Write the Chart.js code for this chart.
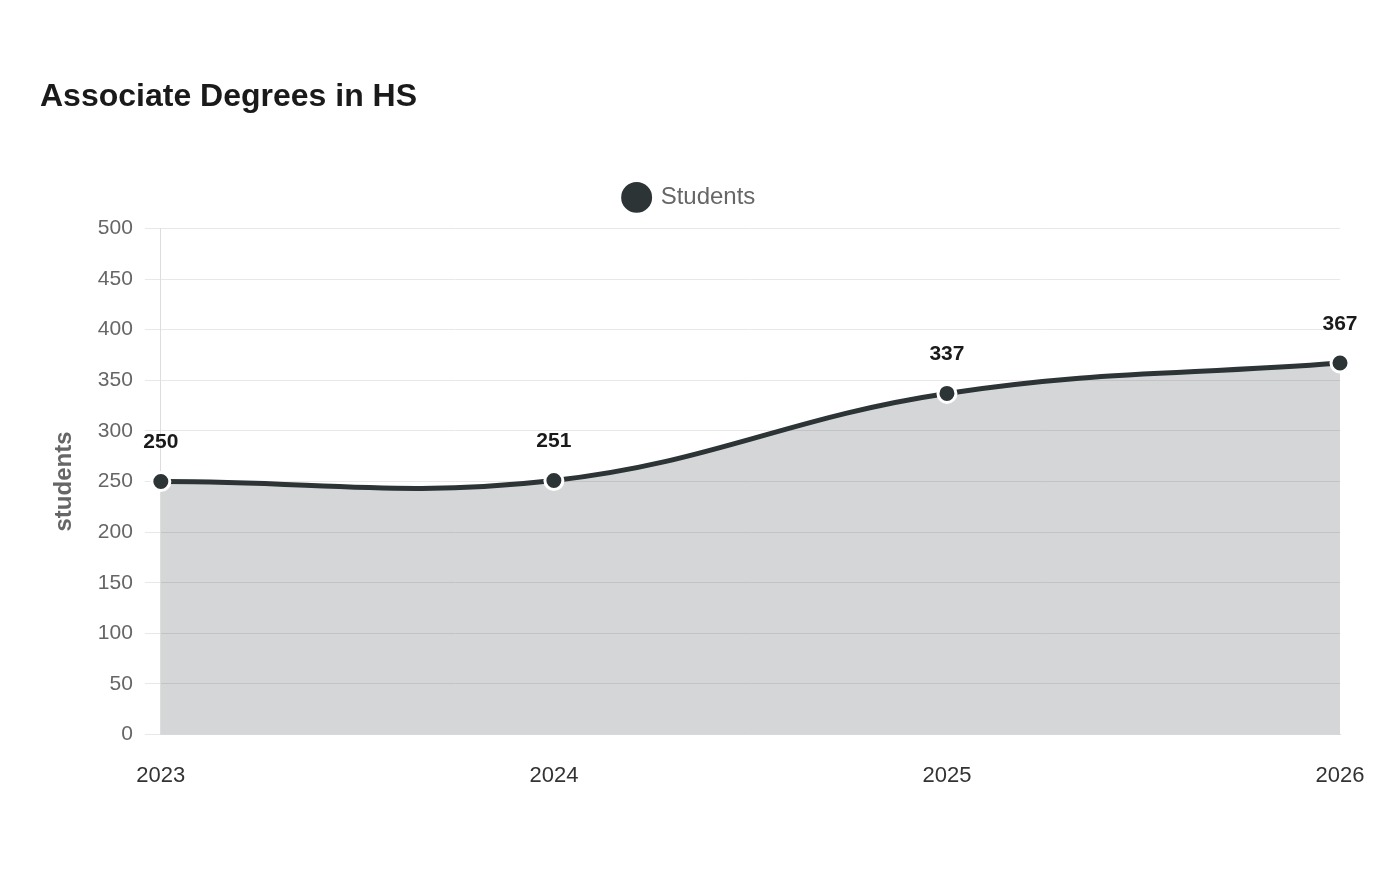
<!DOCTYPE html>
<html>
<head>
<meta charset="utf-8">
<script src="https://cdn.jsdelivr.net/npm/chart.js@4/dist/chart.umd.min.js"></script>
<style>
  html, body { margin: 0; padding: 0; background: #fff; }
  #wrap { width: 1400px; height: 880px; }
</style>
</head>
<body>
<div id="wrap"><canvas id="chart" width="1400" height="880"></canvas></div>
<script>
// data
const years = ['2023', '2024', '2025', '2026'];
const students = [250, 251, 337, 367];
const yTicks = [0, 50, 100, 150, 200, 250, 300, 350, 400, 450, 500];

const lineColor = '#2d3436';
const fontFamily = '"Liberation Sans", Arial, sans-serif';

// draws the value above each point
const valueLabels = {
  id: 'valueLabels',
  afterDatasetsDraw(chart) {
    const ctx = chart.ctx;
    const meta = chart.getDatasetMeta(0);
    ctx.save();
    ctx.font = 'bold 21px ' + fontFamily;
    ctx.fillStyle = '#1a1a1a';
    ctx.textAlign = 'center';
    ctx.textBaseline = 'middle';
    meta.data.forEach((pt, i) => {
      ctx.fillText(String(students[i]), pt.x, pt.y - 39);
    });
    ctx.restore();
  }
};

// adds some room under the legend
const legendSpacing = {
  id: 'legendSpacing',
  beforeInit(chart) {
    const fit = chart.legend.fit;
    chart.legend.fit = function () {
      fit.call(chart.legend);
      this.height += 9;
    };
  }
};

new Chart(document.getElementById('chart'), {
  type: 'line',
  data: {
    labels: years,
    datasets: [{
      label: 'Students',
      data: students,
      borderColor: lineColor,
      backgroundColor: 'rgba(45, 52, 54, 0.2)',
      borderWidth: 5,
      tension: 0.4,
      fill: true,
      pointRadius: 9,
      pointHoverRadius: 9,
      pointBackgroundColor: lineColor,
      pointBorderColor: '#fff',
      pointBorderWidth: 3
    }]
  },
  options: {
    responsive: false,
    animation: false,
    layout: { padding: { left: 40, right: 60, top: 78, bottom: 71 } },
    plugins: {
      title: {
        display: true,
        text: 'Associate Degrees in HS',
        align: 'start',
        color: '#1a1a1a',
        font: { family: fontFamily, size: 32, weight: 'bold' },
        padding: { top: 0, bottom: 43 }
      },
      legend: {
        display: true,
        labels: {
          usePointStyle: true,
          pointStyle: 'circle',
          boxWidth: 30,
          boxHeight: 30,
          color: '#666',
          font: { family: fontFamily, size: 24 },
          padding: 26
        }
      },
      tooltip: { enabled: false }
    },
    scales: {
      x: {
        grid: { display: false },
        border: { display: true, color: '#ddd' },
        ticks: {
          color: '#333',
          padding: 20,
          font: { family: fontFamily, size: 22 }
        }
      },
      y: {
        min: 0,
        max: 500,
        afterBuildTicks(scale) {
          scale.ticks = yTicks.map(v => ({ value: v }));
        },
        grid: { color: '#e8e8e8', tickLength: 16 },
        border: { display: true, color: '#ddd' },
        title: {
          display: true,
          text: 'students',
          color: '#666',
          font: { family: fontFamily, size: 24, weight: 'bold' },
          padding: { top: 10, bottom: 7 }
        },
        ticks: {
          color: '#666',
          padding: 12,
          font: { family: fontFamily, size: 21 }
        }
      }
    }
  },
  plugins: [valueLabels, legendSpacing]
});
</script>
</body>
</html>
